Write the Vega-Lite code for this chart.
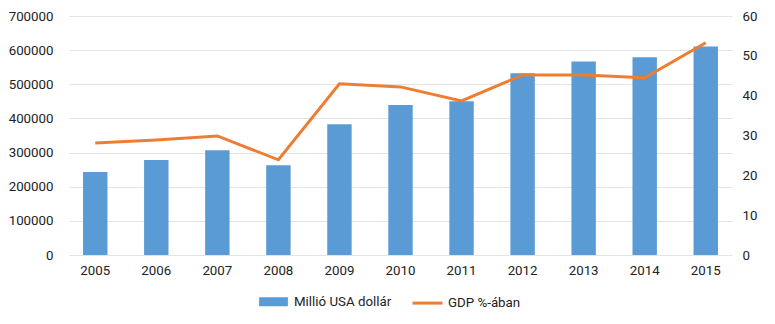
{
  "$schema": "https://vega.github.io/schema/vega-lite/v6.json",
  "width": 663,
  "height": 239,
  "padding": {"left": 8, "top": 9, "right": 8, "bottom": 5},
  "background": "white",
  "config": {
    "font": "Roboto",
    "view": {"stroke": null},
    "axis": {"labelFont": "Roboto", "labelFontSize": 13.3, "labelColor": "#222", "ticks": false, "domain": false, "title": null}
  },
  "data": {"values": [
    {"year": "2005", "usd": 243000, "gdp": 28.1},
    {"year": "2006", "usd": 278000, "gdp": 28.9},
    {"year": "2007", "usd": 307000, "gdp": 29.9},
    {"year": "2008", "usd": 263000, "gdp": 23.9},
    {"year": "2009", "usd": 383000, "gdp": 43.0},
    {"year": "2010", "usd": 439000, "gdp": 42.2},
    {"year": "2011", "usd": 450000, "gdp": 38.7},
    {"year": "2012", "usd": 532000, "gdp": 45.2},
    {"year": "2013", "usd": 567000, "gdp": 45.2},
    {"year": "2014", "usd": 579000, "gdp": 44.5},
    {"year": "2015", "usd": 611000, "gdp": 53.3}
  ]},
  "encoding": {
    "x": {"field": "year", "type": "ordinal", "scale": {"paddingInner": 0.6, "paddingOuter": 0.23}, "axis": {"labelAngle": 0, "labelPadding": 8, "grid": false}}
  },
  "layer": [
    {
      "mark": {"type": "bar", "color": "#5B9BD5"},
      "encoding": {
        "y": {"field": "usd", "type": "quantitative", "scale": {"domain": [0, 700000]}, "axis": {"values": [0,100000,200000,300000,400000,500000,600000,700000], "format": "d", "labelPadding": 16, "gridColor": "#e3e3e3"}},
        "color": {"datum": "Millió USA dollár", "scale": {"domain": ["Millió USA dollár", "GDP %-ában"], "range": ["#5B9BD5", "#ED7D31"]},
          "legend": {"title": null, "orient": "none", "legendX": 188, "legendY": 269, "direction": "horizontal", "labelFontSize": 13.3, "labelFont": "Roboto", "labelColor": "#222", "symbolSize": 900, "columnPadding": 14, "labelOffset": 4,
            "encode": {"symbols": {"update": {"shape": {"signal": "datum.value == 'GDP %-ában' ? 'stroke' : 'M-0.86,-0.2H0.86V0.2H-0.86Z'"}, "strokeWidth": {"value": 3}}}}}}
      }
    },
    {
      "mark": {"type": "line", "color": "#ED7D31", "strokeWidth": 3},
      "encoding": {
        "y": {"field": "gdp", "type": "quantitative", "scale": {"domain": [0, 60]}, "axis": {"orient": "right", "values": [0,10,20,30,40,50,60], "grid": false, "labelPadding": 10}},
        "color": {"datum": "GDP %-ában"}
      }
    }
  ],
  "resolve": {"scale": {"y": "independent"}}
}
